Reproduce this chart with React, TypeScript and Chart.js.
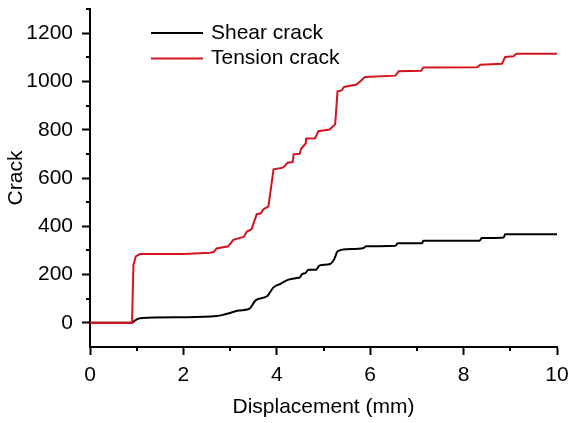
import React, { useEffect, useRef } from 'react';
import { Chart, registerables } from 'chart.js';

Chart.register(...registerables);

const FONT = "'Liberation Sans', Arial, Helvetica, sans-serif";
const FONT_SIZE = 21;

// Shear crack series (displacement mm, crack count)
const shearX = [0, 0.9, 0.95, 1.07, 2.0, 2.71, 2.85, 3.0, 3.18, 3.36, 3.43, 3.54, 3.79, 3.85, 3.93, 4.07, 4.25, 4.46, 4.5, 4.54, 4.61, 4.68, 4.84, 4.91, 5.14, 5.23, 5.3, 5.5, 5.86, 5.91, 6.54, 6.59, 7.11, 7.14, 8.34, 8.39, 8.86, 8.89, 10];
const shearY = [0, 0, 8, 19, 23, 28, 33, 41, 51, 55, 61, 92, 110, 125, 147, 161, 179, 187, 189, 202, 206, 220, 220, 237, 244, 264, 296, 305, 310, 317, 319, 330, 330, 340, 340, 351, 354, 367, 367];

// Tension crack series
const tensionX = [0, 0.9, 0.93, 0.98, 1.07, 2.0, 2.57, 2.65, 2.71, 2.96, 3.07, 3.21, 3.29, 3.36, 3.46, 3.57, 3.66, 3.71, 3.82, 3.93, 4.13, 4.18, 4.23, 4.34, 4.36, 4.49, 4.52, 4.62, 4.63, 4.82, 4.89, 5.13, 5.25, 5.3, 5.39, 5.44, 5.71, 5.89, 6.54, 6.61, 7.09, 7.14, 8.29, 8.36, 8.82, 8.89, 9.07, 9.13, 10];
const tensionY = [0, 0, 240, 275, 285, 285, 290, 294, 308, 317, 344, 352, 356, 378, 388, 450, 454, 470, 482, 636, 643, 652, 663, 666, 698, 700, 721, 743, 764, 765, 794, 801, 822, 959, 963, 977, 987, 1018, 1024, 1042, 1044, 1058, 1059, 1069, 1073, 1101, 1104, 1115, 1115];

const seriesLabels = ['Shear crack', 'Tension crack'];
const seriesColors = ['#000000', '#d3141c'];

const xMajorTicks = [0, 2, 4, 6, 8, 10];
const xMinorTicks = [1, 3, 5, 7, 9];
const yMajorTicks = [0, 200, 400, 600, 800, 1000, 1200];
const yMinorTicks = [100, 300, 500, 700, 900, 1100, 1300];

export default function App() {
  const ref = useRef<HTMLCanvasElement>(null);

  useEffect(() => {
    document.body.style.margin = '0';
    const canvas = ref.current;
    if (!canvas) return;

    const minorTicks = {
      id: 'minorTicks',
      afterDraw(chart: any) {
        const c = chart.ctx;
        const xs = chart.scales.x;
        const ys = chart.scales.y;
        const area = chart.chartArea;
        c.save();
        c.strokeStyle = '#000';
        c.lineWidth = 2;
        yMinorTicks.forEach((v) => {
          const p = Math.round(ys.getPixelForValue(v));
          c.beginPath();
          c.moveTo(area.left - 4, p);
          c.lineTo(area.left, p);
          c.stroke();
        });
        xMinorTicks.forEach((v) => {
          const p = Math.round(xs.getPixelForValue(v));
          c.beginPath();
          c.moveTo(p, area.bottom);
          c.lineTo(p, area.bottom + 4);
          c.stroke();
        });
        c.restore();
      },
    };

    const legendPlugin = {
      id: 'insideLegend',
      afterDraw(chart: any) {
        const c = chart.ctx;
        const area = chart.chartArea;
        c.save();
        c.font = `${FONT_SIZE}px ${FONT}`;
        c.textBaseline = 'middle';
        c.textAlign = 'left';
        chart.data.datasets.forEach((ds: any, i: number) => {
          const y = area.top + 24 + i * 25.5;
          c.strokeStyle = ds.borderColor;
          c.lineWidth = 2;
          c.beginPath();
          c.moveTo(area.left + 61, y);
          c.lineTo(area.left + 113, y);
          c.stroke();
          c.fillStyle = '#000';
          c.fillText(ds.label, area.left + 121, y);
        });
        c.restore();
      },
    };

    const chart = new Chart(canvas, {
      type: 'line',
      data: {
        datasets: [
          {
            label: seriesLabels[0],
            data: shearX.map((x, i) => ({ x, y: shearY[i] })),
            borderColor: seriesColors[0],
            borderWidth: 2,
            pointRadius: 0,
            cubicInterpolationMode: 'monotone',
            order: 1,
          },
          {
            label: seriesLabels[1],
            data: tensionX.map((x, i) => ({ x, y: tensionY[i] })),
            borderColor: seriesColors[1],
            borderWidth: 2,
            pointRadius: 0,
            tension: 0,
            order: 0,
          },
        ],
      },
      options: {
        animation: false,
        responsive: false,
        maintainAspectRatio: false,
        layout: { padding: { top: 9, right: 12, left: 0, bottom: 0 } },
        plugins: { legend: { display: false }, tooltip: { enabled: false } },
        scales: {
          x: {
            type: 'linear',
            min: 0,
            max: 10,
            afterBuildTicks: (s: any) => {
              s.ticks = xMajorTicks.map((v) => ({ value: v }));
            },
            afterFit: (s: any) => {
              s.height = 76;
              s.paddingLeft = 0;
              s.paddingRight = 0;
            },
            grid: { drawOnChartArea: false, drawTicks: true, tickLength: 8, tickWidth: 2, tickColor: '#000' },
            border: { color: '#000', width: 2 },
            ticks: {
              color: '#000',
              font: { size: FONT_SIZE, family: FONT },
              padding: 8,
              maxRotation: 0,
              callback: (v: any) => String(v),
            },
            title: {
              display: true,
              text: 'Displacement (mm)',
              color: '#000',
              font: { size: FONT_SIZE, family: FONT },
              padding: { top: 0, bottom: 3 },
            },
          },
          y: {
            type: 'linear',
            min: -100,
            max: 1300,
            afterBuildTicks: (s: any) => {
              s.ticks = yMajorTicks.map((v) => ({ value: v }));
            },
            afterFit: (s: any) => {
              s.width = 90;
              s.paddingTop = 0;
              s.paddingBottom = 0;
            },
            grid: { drawOnChartArea: false, drawTicks: true, tickLength: 8, tickWidth: 2, tickColor: '#000' },
            border: { color: '#000', width: 2 },
            ticks: {
              color: '#000',
              font: { size: FONT_SIZE, family: FONT },
              padding: 9,
              callback: (v: any) => String(v),
            },
            title: {
              display: true,
              text: 'Crack',
              color: '#000',
              font: { size: FONT_SIZE, family: FONT },
              padding: { top: 4, bottom: 0 },
            },
          },
        },
      },
      plugins: [minorTicks, legendPlugin],
    } as any);

    return () => chart.destroy();
  }, []);

  return (
    <div style={{ width: 569, height: 423 }}>
      <canvas ref={ref} width={569} height={423} style={{ display: 'block', width: 569, height: 423 }} />
    </div>
  );
}
